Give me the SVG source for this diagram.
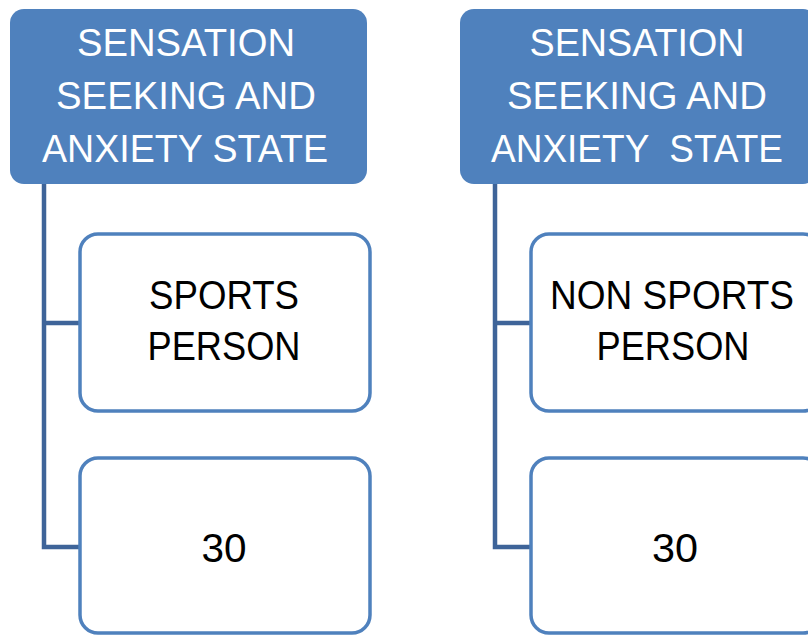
<svg xmlns="http://www.w3.org/2000/svg" width="808" height="635" viewBox="0 0 808 635">
<style>
.hdr{fill:#4F81BD;}
.htxt{fill:#FFFFFF;font-family:"Liberation Sans","Open Sans",sans-serif;font-size:38px;text-anchor:middle;}
.box{fill:#FFFFFF;stroke:#4F81BD;stroke-width:3.5;}
.btxt{fill:#000000;font-family:"Liberation Sans","Open Sans",sans-serif;font-size:40px;text-anchor:middle;}
.conn{fill:none;stroke:#3E6499;stroke-width:4.5;stroke-linejoin:miter;}
</style>
<rect width="808" height="635" fill="#FFFFFF"/>
<g id="connectors">
<path class="conn" d="M44,184 V547 H80"/>
<path class="conn" d="M44,323 H80"/>
<path class="conn" d="M495,184 V547 H531"/>
<path class="conn" d="M495,323 H531"/>
</g>
<g id="header-left">
<rect class="hdr" x="10" y="9" width="357" height="175" rx="14"/>
<text class="htxt" x="186" y="56" textLength="218" lengthAdjust="spacingAndGlyphs">SENSATION</text>
<text class="htxt" x="186" y="109" textLength="260" lengthAdjust="spacingAndGlyphs">SEEKING AND</text>
<text class="htxt" x="185" y="162" textLength="286" lengthAdjust="spacingAndGlyphs">ANXIETY STATE</text>
</g>
<g id="header-right">
<rect class="hdr" x="460" y="9" width="357" height="175" rx="14"/>
<text class="htxt" x="637" y="56" textLength="215" lengthAdjust="spacingAndGlyphs">SENSATION</text>
<text class="htxt" x="637" y="109" textLength="260" lengthAdjust="spacingAndGlyphs">SEEKING AND</text>
<text class="htxt" x="637" y="162" textLength="292" lengthAdjust="spacingAndGlyphs" xml:space="preserve">ANXIETY  STATE</text>
</g>
<g id="sports-person">
<rect class="box" x="80" y="234" width="290" height="177" rx="18"/>
<text class="btxt" x="224" y="309" textLength="150" lengthAdjust="spacingAndGlyphs">SPORTS</text>
<text class="btxt" x="224" y="360" textLength="153" lengthAdjust="spacingAndGlyphs">PERSON</text>
</g>
<g id="sports-count">
<rect class="box" x="80" y="458" width="290" height="175" rx="18"/>
<text class="btxt" x="224" y="562" textLength="45" lengthAdjust="spacingAndGlyphs">30</text>
</g>
<g id="nonsports-person">
<rect class="box" x="531" y="234" width="290" height="177" rx="18"/>
<text class="btxt" x="672" y="309" textLength="244" lengthAdjust="spacingAndGlyphs">NON SPORTS</text>
<text class="btxt" x="673" y="360" textLength="153" lengthAdjust="spacingAndGlyphs">PERSON</text>
</g>
<g id="nonsports-count">
<rect class="box" x="531" y="458" width="290" height="175" rx="18"/>
<text class="btxt" x="675" y="562" textLength="46" lengthAdjust="spacingAndGlyphs">30</text>
</g>
</svg>
